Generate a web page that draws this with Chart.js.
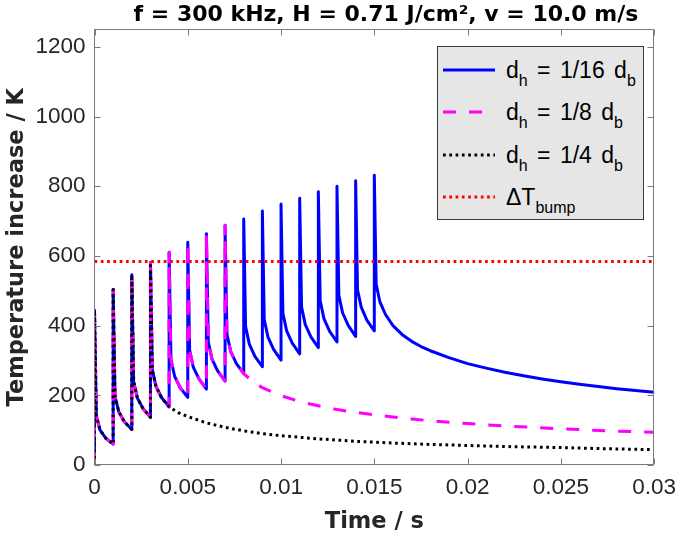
<!DOCTYPE html>
<html>
<head>
<meta charset="utf-8">
<title>Temperature increase</title>
<script src="https://cdn.jsdelivr.net/npm/chart.js@4.4.1/dist/chart.umd.min.js"></script>
<style>
  html, body { margin: 0; padding: 0; background: #fff; }
  #wrap { position: relative; width: 685px; height: 536px; }
  #title {
    position: absolute; left: 103px; width: 566px; top: 0;
    text-align: center; white-space: nowrap;
    font: bold 22px "DejaVu Sans"; line-height: 27px; color: #000;
  }
  #legend {
    position: absolute; left: 437px; top: 46px; width: 207px; height: 174px;
    box-sizing: border-box; background: #e6e6e6; border: 1px solid #3a3a3a;
    font: 23px "Liberation Sans"; color: #000;
  }
  .row { position: absolute; left: 0; height: 30px; display: flex; align-items: center; }
  .row svg { margin-left: 5px; width: 52px; height: 6px; flex: none; }
  .row .txt { margin-left: 11px; white-space: nowrap; line-height: 30px; word-spacing: 3px; }
  .row sub { font-size: 16px; vertical-align: -8px; line-height: 0; }
</style>
</head>
<body>
<div id="wrap">
  <canvas id="chart" width="685" height="536"></canvas>
  <div id="title">f = 300 kHz, H = 0.71 J/cm², v = 10.0 m/s</div>
  <div id="legend"></div>
</div>
<script>
/* ── Data ─────────────────────────────────────────── */
// laser pulses, 1 ms apart
const pulseTimes = [0, 0.001, 0.002, 0.003, 0.004, 0.005, 0.006, 0.007,
                    0.008, 0.009, 0.010, 0.011, 0.012, 0.013, 0.014, 0.015];
// temperature just before each pulse / at its peak
const pulseBase  = [0, 60, 102, 137, 167, 194, 218, 241, 262, 282, 301, 319, 337, 353, 369, 385];
const pulsePeak  = [444, 504, 546, 581, 611, 639, 664, 688, 706, 729, 749, 766, 784, 800, 816, 832];
// decay after each pulse, at 0.1 / 0.3 / 0.6 ms
const decayOffsets = [0.0001, 0.0003, 0.0006];
const after01ms  = [140, 197, 239, 273, 302, 329, 353, 376, 397, 417, 436, 454, 471, 487, 503, 519];
const after03ms  = [100, 153, 192, 225, 254, 280, 304, 326, 347, 367, 385, 403, 420, 437, 453, 468];
const after06ms  = [77, 124, 162, 193, 221, 247, 270, 292, 312, 332, 350, 368, 384, 401, 416, 432];

// cooling after the last pulse of each series
const tail16T = [0.016, 0.0165, 0.017, 0.0175, 0.018, 0.019, 0.020, 0.021, 0.022,
                 0.023, 0.024, 0.025, 0.026, 0.027, 0.028, 0.029, 0.030];
const tail16K = [400, 374, 355, 340, 328, 308, 291, 278, 266, 256, 247, 239, 232, 225, 219, 214, 209];

const tail8T  = [0.008, 0.0085, 0.009, 0.010, 0.011, 0.012, 0.013, 0.014, 0.015,
                 0.016, 0.017, 0.018, 0.020, 0.022, 0.025, 0.028, 0.030];
const tail8K  = [262, 239, 222, 199, 182, 170, 159, 151, 144, 138, 132, 127, 119, 112, 104, 97, 94];

const tail4T  = [0.004, 0.0045, 0.005, 0.006, 0.007, 0.008, 0.009, 0.010, 0.012,
                 0.014, 0.016, 0.018, 0.020, 0.022, 0.025, 0.028, 0.030];
const tail4K  = [167, 150, 139, 121, 108, 98, 90, 84, 75, 68, 63, 59, 56, 53, 50, 46, 44];

const bumpK   = 584;   // ΔT_bump
const bumpT   = [0, 0.03];

const xTicks = [0, 0.005, 0.01, 0.015, 0.02, 0.025, 0.03];
const yTicks = [0, 200, 400, 600, 800, 1000, 1200];

/* ── Helpers ──────────────────────────────────────── */
function pulseTrain(count, tailT, tailK) {
  const pts = [];
  for (let i = 0; i < count; i++) {
    const t0 = pulseTimes[i];
    pts.push({ x: t0, y: pulseBase[i] });
    pts.push({ x: t0, y: pulsePeak[i] });
    pts.push({ x: t0 + decayOffsets[0], y: after01ms[i] });
    pts.push({ x: t0 + decayOffsets[1], y: after03ms[i] });
    pts.push({ x: t0 + decayOffsets[2], y: after06ms[i] });
  }
  tailT.forEach((t, i) => pts.push({ x: t, y: tailK[i] }));
  return pts;
}

const BLUE = '#0000ff', PINK = '#ff00ff', BLACK = '#000000', RED = '#ff0000';
const AXIS = '#262626';
const DASH = [13, 13];
const DOTS = [2.7, 3.6];

/* ── Legend (HTML, so sub-scripts stay real text) ─── */
const legendItems = [
  { color: BLUE,  dash: '',        html: 'd<sub>h</sub> = 1/16 d<sub>b</sub>' },
  { color: PINK,  dash: '13 13',   html: 'd<sub>h</sub> = 1/8 d<sub>b</sub>' },
  { color: BLACK, dash: '2.7 3.6', html: 'd<sub>h</sub> = 1/4 d<sub>b</sub>' },
  { color: RED,   dash: '2.7 3.6', html: '&Delta;T<sub>bump</sub>' }
];
const rowTops = [8, 50, 93, 135];
document.getElementById('legend').innerHTML = legendItems.map((it, i) =>
  '<div class="row" style="top:' + rowTops[i] + 'px">' +
  '<svg viewBox="0 0 52 6"><line x1="0" y1="3" x2="52" y2="3" stroke="' + it.color +
  '" stroke-width="3"' + (it.dash ? ' stroke-dasharray="' + it.dash + '"' : '') + '/></svg>' +
  '<span class="txt">' + it.html + '</span></div>'
).join('');

/* ── MATLAB-like box with inner ticks ─────────────── */
const boxAxes = {
  id: 'boxAxes',
  afterDatasetsDraw(chart) {
    const { ctx, chartArea: a, scales: { x, y } } = chart;
    const L = Math.floor(a.left) + 0.5, R = Math.floor(a.right) - 0.5;
    const T = Math.floor(a.top) + 0.5,  B = Math.floor(a.bottom) - 0.5;
    const tick = 6;
    ctx.save();
    ctx.strokeStyle = '#7a7a7a';
    ctx.lineWidth = 1;
    ctx.beginPath();
    ctx.rect(L, T, R - L, B - T);
    xTicks.forEach(v => {
      const px = Math.round(x.getPixelForValue(v)) + 0.5;
      ctx.moveTo(px, B); ctx.lineTo(px, B - tick);
      ctx.moveTo(px, T); ctx.lineTo(px, T + tick);
    });
    yTicks.forEach(v => {
      const py = Math.round(y.getPixelForValue(v)) + 0.5;
      ctx.moveTo(L, py); ctx.lineTo(L + tick, py);
      ctx.moveTo(R, py); ctx.lineTo(R - tick, py);
    });
    ctx.stroke();
    ctx.restore();
  }
};

/* ── Chart ────────────────────────────────────────── */
const tickFont  = { family: 'Liberation Sans', size: 22.5 };
const labelFont = { family: 'DejaVu Sans', size: 22.5, weight: 'bold' };

new Chart(document.getElementById('chart'), {
  type: 'line',
  data: {
    datasets: [
      { label: 'ΔT bump', data: bumpT.map(t => ({ x: t, y: bumpK })),
        borderColor: RED, borderWidth: 3, borderDash: DOTS, borderCapStyle: 'butt', order: 0 },
      { label: 'dh = 1/4 db', data: pulseTrain(4, tail4T, tail4K),
        borderColor: BLACK, borderWidth: 3, borderDash: DOTS, borderCapStyle: 'butt',
        borderJoinStyle: 'round', order: 1 },
      { label: 'dh = 1/8 db', data: pulseTrain(8, tail8T, tail8K),
        borderColor: PINK, borderWidth: 3, borderDash: DASH, borderCapStyle: 'butt',
        borderJoinStyle: 'round', order: 2 },
      { label: 'dh = 1/16 db', data: pulseTrain(16, tail16T, tail16K),
        borderColor: BLUE, borderWidth: 3, borderCapStyle: 'round',
        borderJoinStyle: 'round', order: 3 }
    ]
  },
  options: {
    responsive: false,
    animation: false,
    devicePixelRatio: 1,
    layout: { padding: { left: 0, right: 24, top: 29.5, bottom: 0 } },
    elements: { point: { radius: 0, hoverRadius: 0 }, line: { tension: 0, fill: false } },
    plugins: { legend: { display: false }, tooltip: { enabled: false }, title: { display: false } },
    scales: {
      x: {
        type: 'linear', min: 0, max: 0.03,
        afterBuildTicks: s => { s.ticks = xTicks.map(v => ({ value: v })); },
        afterFit: s => { s.height = 71; },
        grid: { display: false, drawTicks: false },
        border: { display: false },
        ticks: {
          padding: 9, color: AXIS, font: tickFont, autoSkip: false,
          minRotation: 0, maxRotation: 0,
          callback: v => String(parseFloat(Number(v).toFixed(4)))
        },
        title: { display: true, text: 'Time / s', color: AXIS, font: labelFont,
                 padding: { top: 0, bottom: 0.5 } }
      },
      y: {
        type: 'linear', min: 0, max: 1250,
        afterBuildTicks: s => { s.ticks = yTicks.map(v => ({ value: v })); },
        afterFit: s => { s.width = 94.5; },
        grid: { display: false, drawTicks: false },
        border: { display: false },
        ticks: { padding: 9, color: AXIS, font: tickFont, autoSkip: false,
                 callback: v => String(v) },
        title: { display: true, text: 'Temperature increase / K', color: AXIS, font: labelFont,
                 padding: { top: 3.5, bottom: 0 } }
      }
    }
  },
  plugins: [boxAxes]
});
</script>
</body>
</html>
